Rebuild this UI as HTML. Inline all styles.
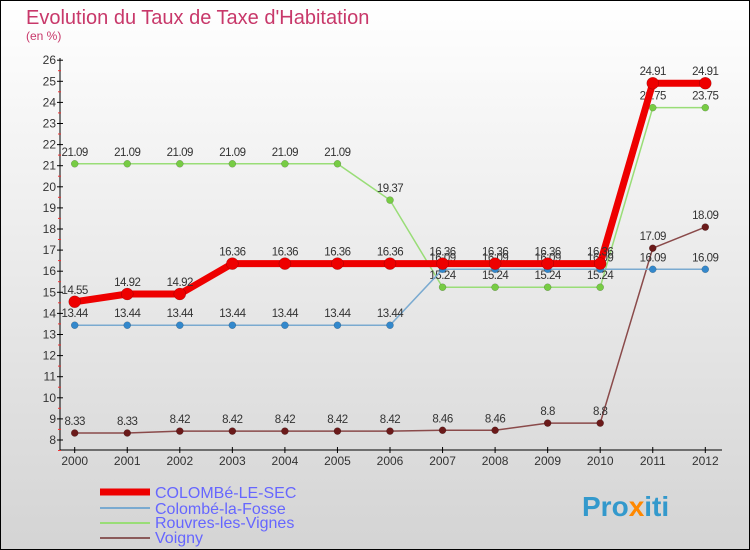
<!DOCTYPE html>
<html><head><meta charset="utf-8"><style>
body{margin:0}
#c{width:750px;height:550px;position:relative;overflow:hidden}
svg{display:block}
text{font-family:"Liberation Sans",sans-serif}
</style></head><body>
<div id="c">
<svg id="s" width="750" height="550" xmlns="http://www.w3.org/2000/svg">
<defs><linearGradient id="bg" x1="0" y1="0" x2="0" y2="1"><stop offset="0" stop-color="#ffffff"/><stop offset="1" stop-color="#d4d4d4"/></linearGradient></defs>
<rect x="0.5" y="0.5" width="749" height="549" fill="url(#bg)" stroke="#000"/>
<text x="26" y="24" font-size="20" fill="#c8386a">Evolution du Taux de Taxe d'Habitation</text>
<text x="26" y="40" font-size="12" fill="#c8386a">(en %)</text>
<g id="axes"></g><g id="series"></g>
<g>
<line x1="100" y1="492" x2="150" y2="492" stroke="#ee0000" stroke-width="7"/>
<text x="155" y="498" font-size="16" fill="#6666ff">COLOMBé-LE-SEC</text>
<line x1="100" y1="508" x2="150" y2="508" stroke="#7aaad0" stroke-width="2"/>
<text x="155" y="514" font-size="16" fill="#6666ff">Colombé-la-Fosse</text>
<line x1="100" y1="523" x2="150" y2="523" stroke="#99dd77" stroke-width="2"/>
<text x="155" y="528" font-size="16" fill="#6666ff">Rouvres-les-Vignes</text>
<line x1="100" y1="538" x2="150" y2="538" stroke="#8a5a5a" stroke-width="2"/>
<text x="155" y="543" font-size="16" fill="#6666ff">Voigny</text>
</g>
<text x="582" y="516" font-size="28" font-weight="bold" fill="#3399cc">Pro<tspan fill="#ff8800">x</tspan>iti</text>
</svg></div>
<script>
const years=[2000,2001,2002,2003,2004,2005,2006,2007,2008,2009,2010,2011,2012];
const colombeSec=[14.55,14.92,14.92,16.36,16.36,16.36,16.36,16.36,16.36,16.36,16.36,24.91,24.91];
const colombeFosse=[13.44,13.44,13.44,13.44,13.44,13.44,13.44,16.09,16.09,16.09,16.09,16.09,16.09];
const rouvres=[21.09,21.09,21.09,21.09,21.09,21.09,19.37,15.24,15.24,15.24,15.24,23.75,23.75];
const voigny=[8.33,8.33,8.42,8.42,8.42,8.42,8.42,8.46,8.46,8.8,8.8,17.09,18.09];
const yTicks=[8,9,10,11,12,13,14,15,16,17,18,19,20,21,22,23,24,25,26];
const NS='http://www.w3.org/2000/svg';
const X=i=>74.7+i*52.55, Y=v=>440-(v-8)*21.1;
function mk(p,t,a){const e=document.createElementNS(NS,t);for(const k in a)e.setAttribute(k,a[k]);p.appendChild(e);return e;}
const ax=document.getElementById('axes'), sg=document.getElementById('series');
let l=mk(ax,'line',{x1:60,y1:58,x2:60,y2:450,stroke:'#000'});

l=mk(ax,'line',{x1:60,y1:450,x2:722,y2:450,stroke:'#000'});

yTicks.forEach(v=>{const y=Y(v);
 mk(ax,'line',{x1:57,y1:y,x2:63,y2:y,stroke:'#000'});
 mk(ax,'line',{x1:58,y1:y+10.5,x2:61,y2:y+10.5,stroke:'#ee3333'});
 const t=mk(ax,'text',{x:56,y:y+4,'font-size':12,fill:'#333','text-anchor':'end'});t.textContent=v;
 });
years.forEach((yr,i)=>{const x=X(i);
 mk(ax,'line',{x1:x,y1:447,x2:x,y2:453,stroke:'#000'});
 const t=mk(ax,'text',{x:x,y:465,'font-size':12,fill:'#333','text-anchor':'middle'});t.textContent=yr;
 });
function series(vals,color,w,r,name,dot){
 const g=mk(sg,'g',{});
 const p=mk(g,'polyline',{points:vals.map((v,i)=>X(i)+','+Y(v)).join(' '),fill:'none',stroke:color,'stroke-width':w,'stroke-linejoin':'round'});
 
 vals.forEach((v,i)=>{const c=mk(g,'circle',{cx:X(i),cy:Y(v),r:r,fill:dot,stroke:'rgba(0,0,0,0.3)','stroke-width':0.5});
  
  const t=mk(g,'text',{x:X(i),y:Y(v)-8,'font-size':11.5,fill:'#333','text-anchor':'middle','letter-spacing':'-0.5'});t.textContent=v;
  });
}
series(voigny,'#8a4a4a',1.5,3.5,'voigny','#6b1a1a');
series(rouvres,'#99dd77',1.5,3.5,'rouvres-les-vignes','#77cc44');
series(colombeFosse,'#7aaad0',1.5,3.5,'colombe-la-fosse','#3388cc');
series(colombeSec,'#ee0000',7,6,'colombe-le-sec','#ee0000');
</script>
</body></html>
